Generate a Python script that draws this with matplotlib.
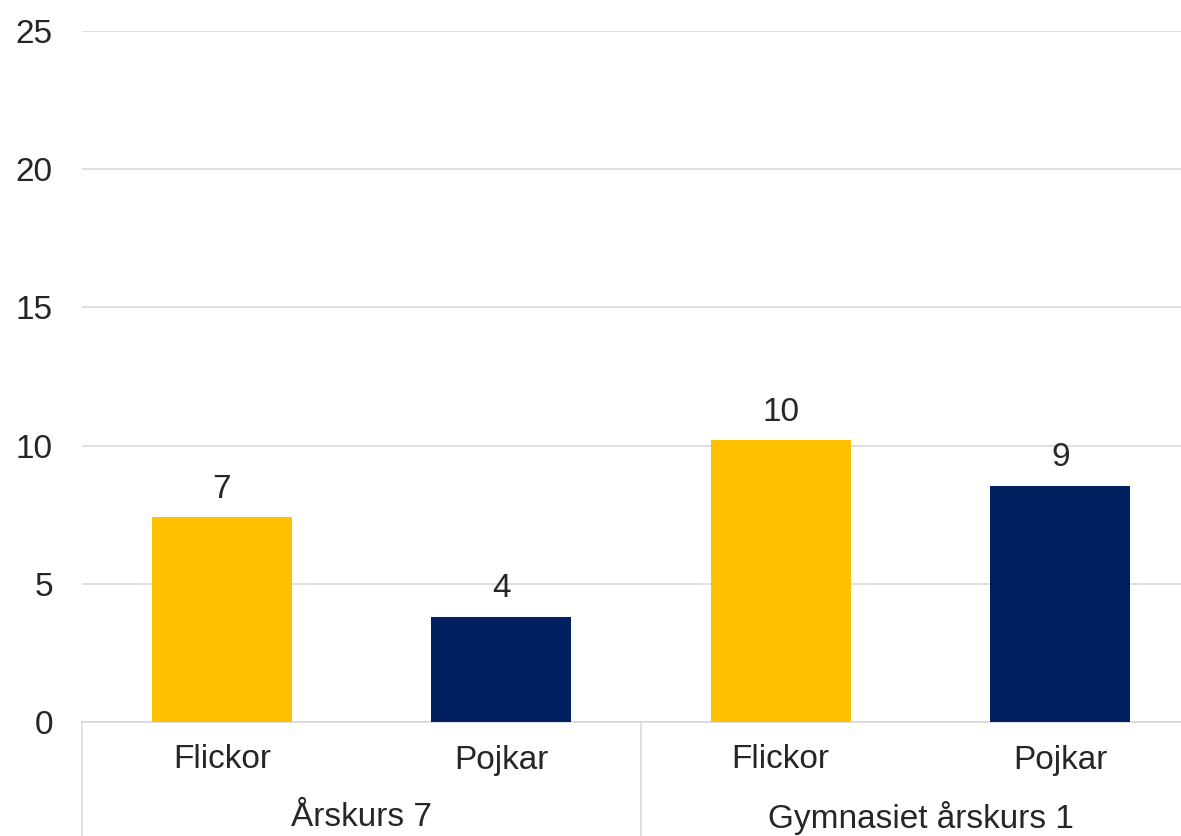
import numpy as np
import matplotlib.pyplot as plt
from matplotlib.transforms import blended_transform_factory

plt.rcParams['font.family'] = ['Liberation Sans', 'DejaVu Sans']

groups = ["Årskurs 7", "Gymnasiet årskurs 1"]
categories = ["Flickor", "Pojkar", "Flickor", "Pojkar"]
values = [7.4, 3.8, 10.2, 8.55]
labels = ["7", "4", "10", "9"]
colors = ["#FFC000", "#002060", "#FFC000", "#002060"]

W, H = 1181, 836
fs = 24
fig = plt.figure(figsize=(W / 100, H / 100), dpi=100)
left, right = 82 / W, 1200 / W
bottom, top = 1 - 722 / H, 1 - 31 / H
ax = fig.add_axes([left, bottom, right - left, top - bottom])

x = np.arange(len(values))
bars = ax.bar(x, values, width=0.5, color=colors, zorder=3)
for b, lab in zip(bars, labels):
    ax.annotate(lab, (b.get_x() + b.get_width() / 2, b.get_height()),
                xytext=(0, 9), textcoords="offset points",
                ha="center", va="bottom", fontsize=fs, color="#262626")

ax.set_xlim(-0.5, len(values) - 0.5)
ax.set_ylim(0, 25)
ax.set_yticks(range(0, 26, 5))
ax.tick_params(axis='y', length=0, labelsize=fs, labelcolor="#262626", pad=21)
ax.set_xticks([])
ax.grid(axis='y', color="#d9d9d9", linewidth=1.2, zorder=0)
for s in ["top", "right", "left"]:
    ax.spines[s].set_visible(False)
ax.spines["bottom"].set_color("#d9d9d9")
ax.spines["bottom"].set_linewidth(1.2)

# category and group labels below axis
tr = blended_transform_factory(ax.transData, fig.transFigure)
for xi, cat in zip(x, categories):
    ax.text(xi, 1 - 760 / H, cat, transform=tr, ha="center", va="center",
            fontsize=fs, color="#262626")
for gi, g in enumerate(groups):
    ax.text(gi * 2 + 0.5, 1 - 818 / H, g, transform=tr, ha="center", va="center",
            fontsize=fs, color="#262626")
for sx in [-0.5, 1.5, 3.5]:
    ax.plot([sx, sx], [0, 1 - 722 / H], transform=tr, color="#d9d9d9",
            linewidth=1.2, clip_on=False)

fig.savefig("out.png", dpi=100)
